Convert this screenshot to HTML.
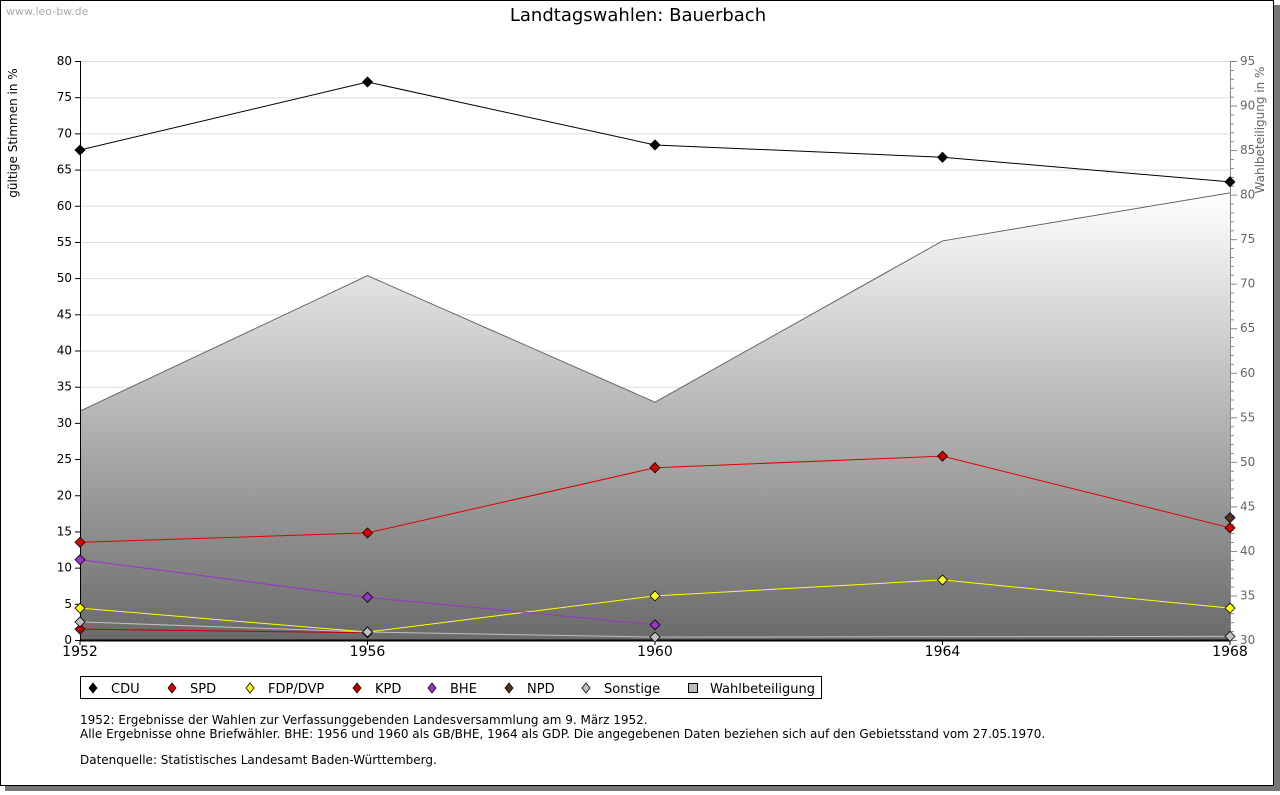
<!DOCTYPE html>
<html><head><meta charset="utf-8"><style>
body{margin:0;background:#fff;width:1280px;height:791px;overflow:hidden;font-family:"DejaVu Sans","Liberation Sans",sans-serif}
</style></head><body>
<svg id="c" width="1280" height="791" xmlns="http://www.w3.org/2000/svg">
<defs><linearGradient id="g" x1="0" y1="0" x2="0" y2="1"><stop offset="0" stop-color="#ffffff"/><stop offset="1" stop-color="#6a6a6a"/></linearGradient></defs>
<rect x="5" y="5" width="1275" height="786" fill="#777"/>
<rect x="0.5" y="0.5" width="1273" height="785" fill="#fff" stroke="#000"/>
<text x="6" y="15" font-size="11" fill="#aaa">www.leo-bw.de</text>
<text x="638" y="21" font-size="18" text-anchor="middle">Landtagswahlen: Bauerbach</text>
<text transform="translate(17,133) rotate(-90)" font-size="12" text-anchor="middle">gültige Stimmen in %</text>
<text transform="translate(1264,130) rotate(-90)" font-size="12" fill="#666" text-anchor="middle">Wahlbeteiligung in %</text>
<g id="grid"></g><g id="area"></g><g id="axes"></g><g id="series"></g>
<rect x="80.5" y="676.5" width="741" height="22" fill="#fff" stroke="#000"/>
<g id="legend"></g>
<text x="80" y="724" font-size="12">1952: Ergebnisse der Wahlen zur Verfassunggebenden Landesversammlung am 9. März 1952.</text>
<text x="80" y="738" font-size="12">Alle Ergebnisse ohne Briefwähler. BHE: 1956 und 1960 als GB/BHE, 1964 als GDP. Die angegebenen Daten beziehen sich auf den Gebietsstand vom 27.05.1970.</text>
<text x="80" y="764" font-size="12">Datenquelle: Statistisches Landesamt Baden-Württemberg.</text>
</svg>
<script>
const years=[1952,1956,1960,1964,1968];
const cdu=[67.7,77.1,68.4,66.7,63.3];
const spd=[13.5,14.8,23.8,25.4,15.5];
const fdp=[4.4,1.1,6.1,8.3,4.4];
const kpd=[1.5,1.0,null,null,null];
const bhe=[11.1,5.9,2.1,null,null];
const npd=[null,null,null,null,16.9];
const sonst=[2.5,1.1,0.4,null,0.5];
const turnout=[55.7,70.9,56.7,74.8,80.2];
const leftTicks=[0,5,10,15,20,25,30,35,40,45,50,55,60,65,70,75,80];
const rightTicks=[30,35,40,45,50,55,60,65,70,75,80,85,90,95];
const NS="http://www.w3.org/2000/svg";
const X0=80,X1=1230,Y0=640,Y1=61;
const x=i=>X0+(years[i]-years[0])/(years[years.length-1]-years[0])*(X1-X0);
const y=v=>Y0-v/80*(Y0-Y1);
const y2=v=>Y0-(v-30)/65*(Y0-Y1);
function mk(p,t,a){const e=document.createElementNS(NS,t);for(const k in a)e.setAttribute(k,a[k]);document.getElementById(p).appendChild(e);return e;}
leftTicks.forEach(v=>{
 const l=mk('grid','line',{x1:X0,x2:X1,y1:y(v)+.5,y2:y(v)+.5,stroke:'#ddd'});
 
 
 mk('axes','line',{x1:X0-5,x2:X0,y1:y(v)+.5,y2:y(v)+.5,stroke:'#000'});
 const t=mk('axes','text',{x:X0-8,y:y(v)+4,'font-size':12,'text-anchor':'end'});t.textContent=v;
 
 
});
for(let v=30;v<=95;v++){mk('axes','line',{x1:X1,x2:X1+(v%5?4:7),y1:y2(v)+.5,y2:y2(v)+.5,stroke:'#888'});}
rightTicks.forEach(v=>{const t=mk('axes','text',{x:X1+10,y:y2(v)+4,'font-size':12,fill:'#666'});t.textContent=v;
 
 });
let pts=turnout.map((v,i)=>x(i)+','+y2(v)).join(' ');
const ar=mk('area','polygon',{points:X0+','+Y0+' '+pts+' '+X1+','+Y0,fill:'url(#g)',stroke:'none'});


mk('area','polyline',{points:pts,fill:'none',stroke:'#666'});
mk('axes','line',{x1:X0+.5,x2:X0+.5,y1:Y1,y2:Y0,stroke:'#000'});
mk('axes','line',{x1:X1+.5,x2:X1+.5,y1:Y1,y2:Y0,stroke:'#888'});
mk('axes','line',{x1:X0,x2:X1,y1:Y0+.5,y2:Y0+.5,stroke:'#000','stroke-width':2});
years.forEach((yr,i)=>{mk('axes','line',{x1:x(i),x2:x(i),y1:Y0,y2:Y0+5,stroke:'#000'});
 const t=mk('axes','text',{x:x(i),y:Y0+16,'font-size':14,'text-anchor':'middle'});t.textContent=yr;
 
 });
const series=[['cdu',cdu,'#000','#000'],['spd',spd,'#e00000','#e00000'],['fdp',fdp,'#ffff00','#ffff00'],['kpd',kpd,'#c00000','#c00000'],['bhe',bhe,'#9933cc','#9933cc'],['npd',npd,'#553322','#553322'],['sonstige',sonst,'#c0c0c0','#c0c0c0']];
series.forEach(([n,d,lc,fc])=>{
 const p=[];d.forEach((v,i)=>{if(v!==null)p.push(x(i)+','+y(v));});
 if(p.length>1){const l=mk('series','polyline',{points:p.join(' '),fill:'none',stroke:lc});
  
  }
 d.forEach((v,i)=>{if(v===null)return;const cx=x(i),cy=y(v);
  const m=mk('series','polygon',{points:`${cx},${cy-5} ${cx+5},${cy} ${cx},${cy+5} ${cx-5},${cy}`,fill:fc,stroke:'#000','stroke-width':.8});
  
  });
});
const leg=[['CDU','#000',93],['SPD','#e00000',172],['FDP/DVP','#ffff00',250],['KPD','#c00000',357],['BHE','#9933cc',432],['NPD','#553322',509],['Sonstige','#c0c0c0',586]];
leg.forEach(([n,c,lx])=>{
 const m=mk('legend','polygon',{points:`${lx},${683} ${lx+4},${688} ${lx},${693} ${lx-4},${688}`,fill:c,stroke:'#000','stroke-width':.8});
 
 
 const t=mk('legend','text',{x:lx+18,y:693,'font-size':13});t.textContent=n;
 
 
});
const r=mk('legend','rect',{x:688.5,y:683.5,width:9,height:9,fill:'#bbb',stroke:'#000'});


const t=mk('legend','text',{x:710,y:693,'font-size':13});t.textContent='Wahlbeteiligung';


</script>
</body></html>
